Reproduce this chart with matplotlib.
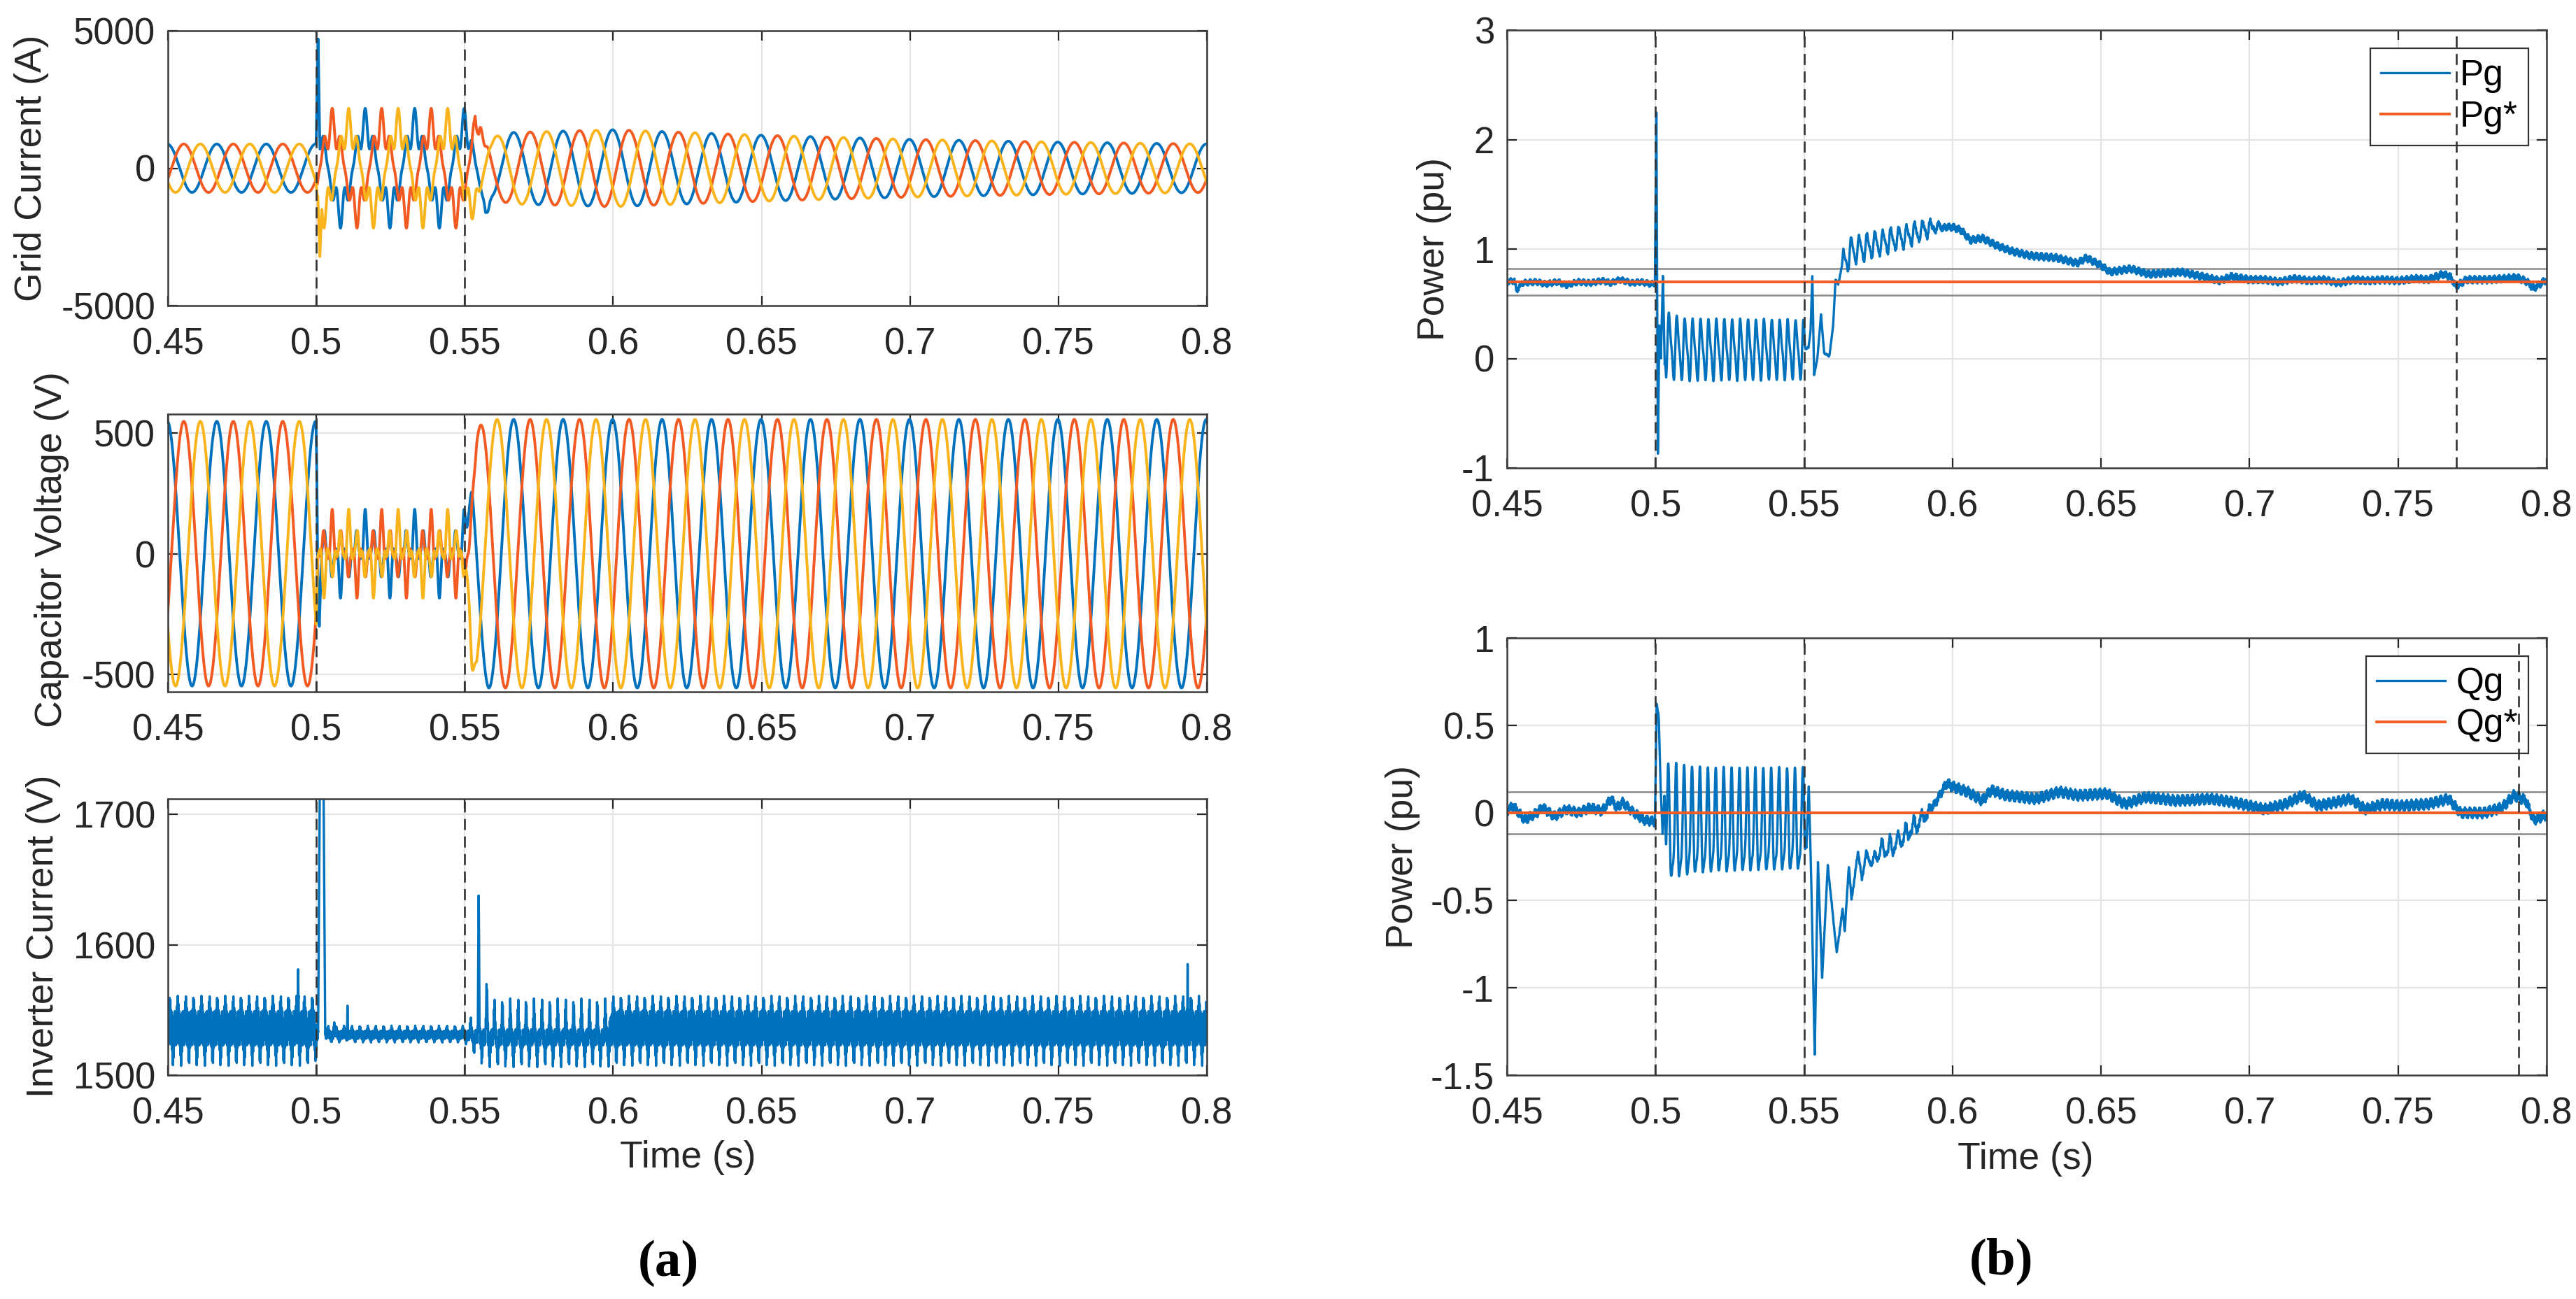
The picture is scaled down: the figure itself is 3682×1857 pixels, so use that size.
import numpy as np
import matplotlib
matplotlib.use("Agg")
import matplotlib.pyplot as plt
from matplotlib.ticker import FormatStrFormatter

plt.rcParams['font.family'] = ['Liberation Sans', 'DejaVu Sans']
plt.rcParams['axes.unicode_minus'] = False

# colours (MATLAB default order, as rendered in the figure)
C_BLUE = '#0072BD'
C_RED = '#F25A22'
C_YEL = '#F9B31B'
C_DASH = '#333333'
C_BAND = '#8a8a8a'

# ---------------------------------------------------------------- data
t = np.arange(0.45, 0.80001, 1e-5)
F0 = 60.0             # grid frequency (Hz)
T_PEAK = 0.4998       # time of the phase-a (blue) peak before the fault
EVENTS = [0.5, 0.55]  # fault on / fault cleared
PG_EVENT = 0.7695     # extra marker in the Pg plot
QG_EVENT = 0.7905     # extra marker in the Qg plot
PG_REF = 0.7
QG_REF = 0.0
PG_BAND = [0.58, 0.82]
QG_BAND = [-0.12, 0.12]
F_RIP = 375.0         # ripple during / after the fault (Hz)

# grid current: amplitude breakpoints (A)
ig_t = [0.45, 0.4999, 0.5004, 0.55, 0.556, 0.56, 0.566, 0.6, 0.65, 0.7, 0.75, 0.8]
ig_a1 = [880, 880, 1500, 1500, 1150, 1150, 1300, 1400, 1200, 1050, 950, 880]
ig_a5 = [0, 0, 380, 380, 150, 0, 0, 0, 0, 0, 0, 0]
ig_a7 = [0, 0, 300, 300, 100, 0, 0, 0, 0, 0, 0, 0]
# transient pulses (time, height, half width)
ig_pulse_blue = [(0.5006, 3400, 0.0006), (0.557, -700, 0.0015)]
ig_pulse_red = [(0.5535, 1100, 0.0012)]
ig_pulse_yel = [(0.5012, -2500, 0.0007)]

# capacitor voltage: amplitude breakpoints (V)
vc_t = [0.45, 0.4999, 0.5004, 0.55, 0.5525, 0.554, 0.558, 0.8]
vc_a1 = [548, 548, 60, 60, 430, 520, 556, 556]
vc_a5 = [0, 0, 60, 60, 30, 0, 0, 0]
vc_a7 = [0, 0, 42, 42, 20, 0, 0, 0]
vc_a11 = [0, 0, 22, 22, 0, 0, 0, 0]
vc_pulse_blue = [(0.501, -280, 0.0008)]

# inverter current: level, core band, ripple teeth
inv_t = [0.45, 0.4995, 0.5005, 0.55, 0.5565, 0.5975, 0.6, 0.8]
inv_mean = [1536, 1536, 1531, 1531, 1529, 1529, 1536, 1536]
inv_core = [13, 13, 3, 3, 6, 6, 13, 13]
inv_up = [12, 12, 4, 4, 24, 24, 12, 12]
inv_down = [16, 16, 3, 3, 17, 17, 16, 16]
inv_spikes = [(0.4939, 50, 0.0002), (0.5018, 400, 0.0012), (0.506, 8, 0.0003),
              (0.5105, 25, 0.0002), (0.5547, 95, 0.0003), (0.5575, 20, 0.0004),
              (0.7935, 48, 0.0002)]

# active power trend (pu)
pg_trend = [(0.45, 0.70), (0.4525, 0.71), (0.4532, 0.62), (0.455, 0.69), (0.46, 0.70),
            (0.463, 0.68), (0.467, 0.70), (0.47, 0.67), (0.474, 0.70), (0.478, 0.69),
            (0.482, 0.71), (0.485, 0.69), (0.488, 0.72), (0.492, 0.69), (0.495, 0.70),
            (0.4985, 0.68), (0.4998, 0.69),
            (0.5003, 2.25), (0.5008, -0.87), (0.5013, 0.3), (0.5018, 0.0), (0.5025, 0.75),
            (0.5031, -0.05), (0.5036, 0.12), (0.51, 0.08), (0.55, 0.08),
            (0.5515, 0.1), (0.5522, 0.25), (0.5528, 0.75), (0.5534, -0.15), (0.5545, 0.0),
            (0.5557, 0.4), (0.5568, 0.05), (0.5585, 0.02), (0.5598, 0.3), (0.5606, 0.72),
            (0.5615, 0.68), (0.5628, 0.85), (0.566, 0.98), (0.575, 1.05), (0.585, 1.12),
            (0.593, 1.2), (0.597, 1.2), (0.6, 1.2), (0.603, 1.17), (0.606, 1.08),
            (0.61, 1.1), (0.615, 1.03), (0.62, 0.98), (0.626, 0.94), (0.635, 0.92),
            (0.642, 0.87), (0.645, 0.92), (0.65, 0.85), (0.653, 0.79), (0.66, 0.82),
            (0.666, 0.77), (0.677, 0.79), (0.684, 0.75), (0.69, 0.71), (0.694, 0.75),
            (0.7, 0.72), (0.705, 0.72), (0.71, 0.70), (0.715, 0.73), (0.72, 0.71),
            (0.725, 0.72), (0.73, 0.69), (0.735, 0.72), (0.74, 0.71), (0.745, 0.72),
            (0.75, 0.71), (0.756, 0.73), (0.76, 0.72), (0.765, 0.77), (0.7675, 0.75),
            (0.7695, 0.66), (0.773, 0.72), (0.78, 0.72), (0.786, 0.73), (0.79, 0.74),
            (0.7935, 0.70), (0.7955, 0.64), (0.8, 0.72)]
pg_rip_t = [0.45, 0.5032, 0.5036, 0.51, 0.55, 0.5505, 0.5628, 0.5632, 0.59, 0.598, 0.8]
pg_rip_a = [0, 0, 0.27, 0.25, 0.24, 0, 0, 0.12, 0.08, 0, 0]
pg_tex_t = [0.45, 0.4995, 0.5005, 0.556, 0.59, 0.6, 0.8]
pg_tex_a = [0.018, 0.018, 0.004, 0.004, 0.014, 0.022, 0.022]

# reactive power trend (pu)
qg_trend = [(0.45, 0.01), (0.452, 0.04), (0.456, -0.04), (0.46, 0.0), (0.462, 0.03),
            (0.466, -0.02), (0.47, 0.02), (0.474, 0.0), (0.478, 0.03), (0.482, 0.01),
            (0.485, 0.08), (0.487, 0.03), (0.489, 0.06), (0.492, 0.01), (0.496, -0.04),
            (0.4998, -0.05),
            (0.5004, 0.62), (0.5011, 0.55), (0.5017, 0.15), (0.5024, -0.12), (0.503, 0.1),
            (0.5036, -0.11), (0.515, -0.1), (0.55, -0.09),
            (0.5508, -0.2), (0.5516, 0.15), (0.5524, -0.35), (0.5536, -1.38), (0.5547, -0.28),
            (0.5561, -0.95), (0.558, -0.3), (0.561, -0.8), (0.563, -0.55), (0.5637, -0.68),
            (0.5651, -0.3), (0.566, -0.5), (0.5682, -0.22), (0.5695, -0.38), (0.571, -0.22),
            (0.5725, -0.3), (0.575, -0.22), (0.58, -0.19), (0.585, -0.11), (0.59, -0.03),
            (0.594, 0.05), (0.598, 0.17), (0.6, 0.15), (0.605, 0.12), (0.61, 0.07),
            (0.613, 0.13), (0.618, 0.1), (0.628, 0.08), (0.636, 0.12), (0.642, 0.1),
            (0.652, 0.11), (0.658, 0.05), (0.665, 0.09), (0.675, 0.07), (0.687, 0.08),
            (0.695, 0.06), (0.705, 0.02), (0.712, 0.05), (0.718, 0.1), (0.723, 0.04),
            (0.734, 0.08), (0.739, 0.02), (0.745, 0.05), (0.751, 0.04), (0.76, 0.05),
            (0.767, 0.08), (0.771, 0.0), (0.779, 0.0), (0.785, 0.03), (0.789, 0.1),
            (0.793, 0.07), (0.7956, -0.04), (0.8, -0.01)]
qg_rip_t = [0.45, 0.5032, 0.5036, 0.515, 0.55, 0.5506, 0.572, 0.575, 0.59, 0.593, 0.8]
qg_rip_a = [0, 0, 0.31, 0.28, 0.27, 0, 0, 0.05, 0.04, 0, 0]
qg_tex_t = [0.45, 0.4995, 0.5005, 0.556, 0.59, 0.6, 0.8]
qg_tex_a = [0.018, 0.018, 0.004, 0.004, 0.014, 0.02, 0.02]

X_TICKS = [0.45, 0.5, 0.55, 0.6, 0.65, 0.7, 0.75, 0.8]


# ---------------------------------------------------------------- build series
def pulses(items):
    out = np.zeros_like(t)
    for tc, h, w in items:
        out += h * np.clip(1 - np.abs(t - tc) / w, 0, None)
    return out


def env(xp, fp):
    return np.interp(t, xp, fp)


theta = 2 * np.pi * F0 * (t - T_PEAK)
shifts = [0.0, -2 * np.pi / 3, 2 * np.pi / 3]   # blue, red, yellow

a1, a5, a7 = env(ig_t, ig_a1), env(ig_t, ig_a5), env(ig_t, ig_a7)
ig_pulses = [pulses(ig_pulse_blue), pulses(ig_pulse_red), pulses(ig_pulse_yel)]
grid_i = [a1 * np.cos(theta + s) + a5 * np.cos(5 * (theta + s)) + a7 * np.cos(7 * (theta + s)) + p
          for s, p in zip(shifts, ig_pulses)]

b1, b5, b7, b11 = env(vc_t, vc_a1), env(vc_t, vc_a5), env(vc_t, vc_a7), env(vc_t, vc_a11)
vc_pulses = [pulses(vc_pulse_blue), 0, 0]
cap_v = [b1 * np.cos(theta + s) + b5 * np.cos(5 * (theta + s)) + b7 * np.cos(7 * (theta + s))
         + b11 * np.cos(11 * (theta + s)) + p
         for s, p in zip(shifts, vc_pulses)]

ph = 2 * np.pi * F_RIP * t
inv_i = (env(inv_t, inv_mean) + env(inv_t, inv_core) * np.sin(2 * np.pi * 4000 * t)
         + env(inv_t, inv_up) * np.clip(np.cos(ph), 0, None) ** 5
         - env(inv_t, inv_down) * np.clip(-np.cos(ph + 0.6), 0, None) ** 5
         + pulses(inv_spikes))

pg_tt, pg_vv = zip(*pg_trend)
pg = (np.interp(t, pg_tt, pg_vv)
      + env(pg_rip_t, pg_rip_a) * (np.sin(ph) + 0.3 * np.sin(2 * ph))
      + env(pg_tex_t, pg_tex_a) * (np.sin(2 * np.pi * 2500 * t) + 0.6 * np.sin(2 * np.pi * 610 * t)))
qg_tt, qg_vv = zip(*qg_trend)
qg = (np.interp(t, qg_tt, qg_vv)
      + env(qg_rip_t, qg_rip_a) * (np.sin(ph + 1.0) + 0.3 * np.sin(2 * ph))
      + env(qg_tex_t, qg_tex_a) * (np.sin(2 * np.pi * 2500 * t) + 0.6 * np.sin(2 * np.pi * 610 * t)))

# ---------------------------------------------------------------- figure
W, H = 3682, 1857
fig = plt.figure(figsize=(W / 100, H / 100), dpi=100)


def px_axes(x0, y0, x1, y1):
    return fig.add_axes([x0 / W, 1 - y1 / H, (x1 - x0) / W, (y1 - y0) / H])


def style(ax, ylim, yticks):
    ax.set_xlim(0.45, 0.8)
    ax.set_ylim(*ylim)
    ax.set_xticks(X_TICKS)
    ax.set_yticks(yticks)
    ax.xaxis.set_major_formatter(FormatStrFormatter('%g'))
    ax.yaxis.set_major_formatter(FormatStrFormatter('%g'))
    ax.grid(True, color='#e4e4e4', lw=1.6)
    ax.set_axisbelow(True)
    ax.tick_params(direction='in', top=True, right=True, length=10, width=1.6,
                   labelsize=38, colors='#262626')
    ax.tick_params(axis='x', pad=22)
    ax.tick_params(axis='y', pad=13)
    for s in ax.spines.values():
        s.set_linewidth(1.8)
        s.set_color('#3c3c3c')


def events(ax, extra=None):
    xs = list(EVENTS) + ([extra] if extra else [])
    for x in xs:
        ax.axvline(x, color=C_DASH, lw=1.9, ls=(0, (6, 3.5)), zorder=6)


LW = 2.8
cols = [C_BLUE, C_RED, C_YEL]

ax1 = px_axes(240, 44, 1725, 437)
for y, c in zip(grid_i, cols):
    ax1.plot(t, y, color=c, lw=LW)
style(ax1, (-5000, 5000), [-5000, 0, 5000])
events(ax1)

ax2 = px_axes(240, 592, 1725, 989)
for y, c in zip(cap_v, cols):
    ax2.plot(t, y, color=c, lw=LW)
style(ax2, (-572, 578), [-500, 0, 500])
events(ax2)

ax3 = px_axes(240, 1142, 1725, 1537)
ax3.plot(t, inv_i, color=C_BLUE, lw=2.4)
style(ax3, (1500, 1712), [1500, 1600, 1700])
events(ax3)

ax4 = px_axes(2154, 43, 3640, 669)
ax4.plot(t, pg, color=C_BLUE, lw=2.4, label='Pg')
ax4.plot(t, np.full_like(t, PG_REF), color=C_RED, lw=2.8, label='Pg*')
for b in PG_BAND:
    ax4.axhline(b, color=C_BAND, lw=1.8, zorder=1.5)
style(ax4, (-1, 3), [-1, 0, 1, 2, 3])
events(ax4, PG_EVENT)

ax5 = px_axes(2154, 912, 3640, 1537)
ax5.plot(t, qg, color=C_BLUE, lw=2.4, label='Qg')
ax5.plot(t, np.full_like(t, QG_REF), color=C_RED, lw=2.8, label='Qg*')
for b in QG_BAND:
    ax5.axhline(b, color=C_BAND, lw=1.8, zorder=1.5)
style(ax5, (-1.5, 1), [-1.5, -1, -0.5, 0, 0.5, 1])
events(ax5, QG_EVENT)

for ax in (ax4, ax5):
    leg = ax.legend(loc='upper right', fontsize=37, fancybox=False, framealpha=1,
                    edgecolor='#333333', handlelength=1.9, handletextpad=0.3,
                    labelspacing=0.2, borderpad=0.3, borderaxespad=0.5)
    leg.get_frame().set_linewidth(1.6)

# axis labels
lab = dict(fontsize=38.5, color='#262626', rotation=90, ha='center', va='center')
fig.text(45 / W, 1 - 240 / H, 'Grid Current (A)', **lab)
fig.text(74 / W, 1 - 786 / H, 'Capacitor Voltage (V)', **lab)
fig.text(62 / W, 1 - 1338 / H, 'Inverter Current (V)', **lab)
fig.text(2050 / W, 1 - 356 / H, 'Power (pu)', **lab)
fig.text(2005 / W, 1 - 1225 / H, 'Power (pu)', **lab)
fig.text(983 / W, 1 - 1655 / H, 'Time (s)', fontsize=38.5, color='#262626', ha='center', va='center')
fig.text(2895 / W, 1 - 1657 / H, 'Time (s)', fontsize=38.5, color='#262626', ha='center', va='center')

panel = dict(fontsize=54, fontweight='bold', family=['Liberation Serif', 'DejaVu Serif'],
             ha='center', va='center')
fig.text(955 / W, 1 - 1806 / H, '(a)', **panel)
fig.text(2861 / W, 1 - 1803 / H, '(b)', **panel)

fig.savefig('out.png', dpi=100, facecolor='white')
